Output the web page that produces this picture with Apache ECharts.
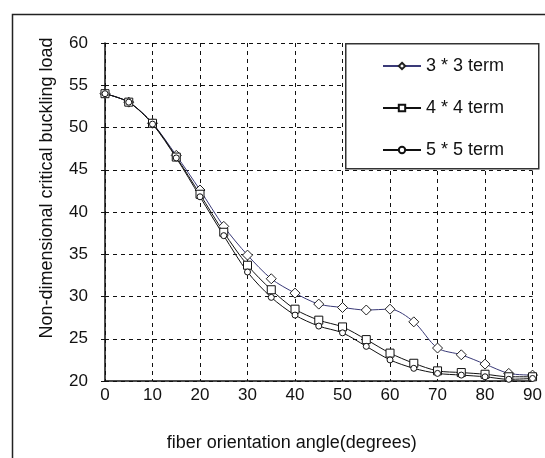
<!DOCTYPE html>
<html><head><meta charset="utf-8">
<script src="https://cdn.jsdelivr.net/npm/echarts@6/dist/echarts.min.js"></script>
<style>html,body{margin:0;padding:0;background:#fff}#c{width:545px;height:458px}</style>
</head><body><div id="c"></div>
<script>
const angles = [0,5,10,15,20,25,30,35,40,45,50,55,60,65,70,75,80,85,90];
const term3 = [54.0,53.0,50.5,46.7,42.6,38.3,34.9,32.1,30.4,29.1,28.7,28.4,28.5,27.0,23.9,23.1,22.0,20.9,20.7];
const term4 = [54.0,53.0,50.5,46.5,42.1,37.6,33.7,30.8,28.5,27.2,26.4,24.9,23.3,22.1,21.2,21.0,20.8,20.5,20.5];
const term5 = [54.0,53.0,50.4,46.4,41.8,37.2,32.9,29.9,27.8,26.5,25.7,24.1,22.5,21.5,20.9,20.7,20.5,20.2,20.3];
const seriesNames = ['3 * 3 term','4 * 4 term','5 * 5 term'];
const xTitle = 'fiber orientation angle(degrees)';
const yTitle = 'Non-dimensional critical buckling load';

const FONT = "'Liberation Sans', Arial, sans-serif";
const pairs = v => angles.map((a,i)=>[a,v[i]]);
const chart = echarts.init(document.getElementById('c'), null, {renderer:'canvas'});
const dash = {type:[4,4], color:'#111', width:1};
chart.setOption({
  backgroundColor:'#fff',
  animation:false,
  textStyle:{fontFamily:FONT},
  grid:{left:105, top:43, right:8, bottom:77},
  graphic:[
    {type:'rect', left:10, top:12, shape:{width:560, height:470}, style:{fill:null, stroke:'#222', lineWidth:1.5}, z:1, silent:true},
    {type:'rect', left:345, top:43, shape:{width:193, height:125}, style:{fill:'#fff', stroke:'#333', lineWidth:1.5}, z:3, silent:true}
  ],
  legend:{
    orient:'vertical', left:382, top:57, itemWidth:38, itemHeight:8, itemGap:24,
    padding:0, z:10,
    textStyle:{fontFamily:FONT, fontSize:18, color:'#111'},
    data:seriesNames
  },
  xAxis:{
    type:'value', min:0, max:90, interval:10,
    name:xTitle, nameLocation:'middle', nameGap:53,
    nameTextStyle:{fontFamily:FONT, fontSize:18, color:'#111', padding:[0,54,0,0]},
    axisLine:{lineStyle:{color:'#111', width:1.5}},
    axisTick:{show:false},
    axisLabel:{fontFamily:FONT, fontSize:17, color:'#111', margin:6},
    splitLine:{show:true, lineStyle:dash}
  },
  yAxis:{
    type:'value', min:20, max:60, interval:5,
    name:yTitle, nameLocation:'middle', nameGap:49,
    nameTextStyle:{fontFamily:FONT, fontSize:18, color:'#111', padding:[0,0,0,48]},
    axisLine:{show:true, lineStyle:{color:'#111', width:1.5}},
    axisTick:{show:true, length:4, lineStyle:{color:'#111'}},
    axisLabel:{fontFamily:FONT, fontSize:17, color:'#111', margin:17},
    splitLine:{show:true, lineStyle:dash}
  },
  series:[
    {name:seriesNames[0], type:'line', data:pairs(term3), smooth:0.3, symbol:'diamond', symbolSize:10,
     lineStyle:{color:'#3a3a78', width:1}, itemStyle:{color:'#fff', borderColor:'#222', borderWidth:1}, z:5},
    {name:seriesNames[1], type:'line', data:pairs(term4), smooth:0.3, symbol:'rect', symbolSize:8,
     lineStyle:{color:'#111', width:1}, itemStyle:{color:'#fff', borderColor:'#111', borderWidth:1}, z:5},
    {name:seriesNames[2], type:'line', data:pairs(term5), smooth:0.3, symbol:'circle', symbolSize:6,
     lineStyle:{color:'#111', width:1}, itemStyle:{color:'#fff', borderColor:'#111', borderWidth:1}, z:5}
  ]
});
</script></body></html>
